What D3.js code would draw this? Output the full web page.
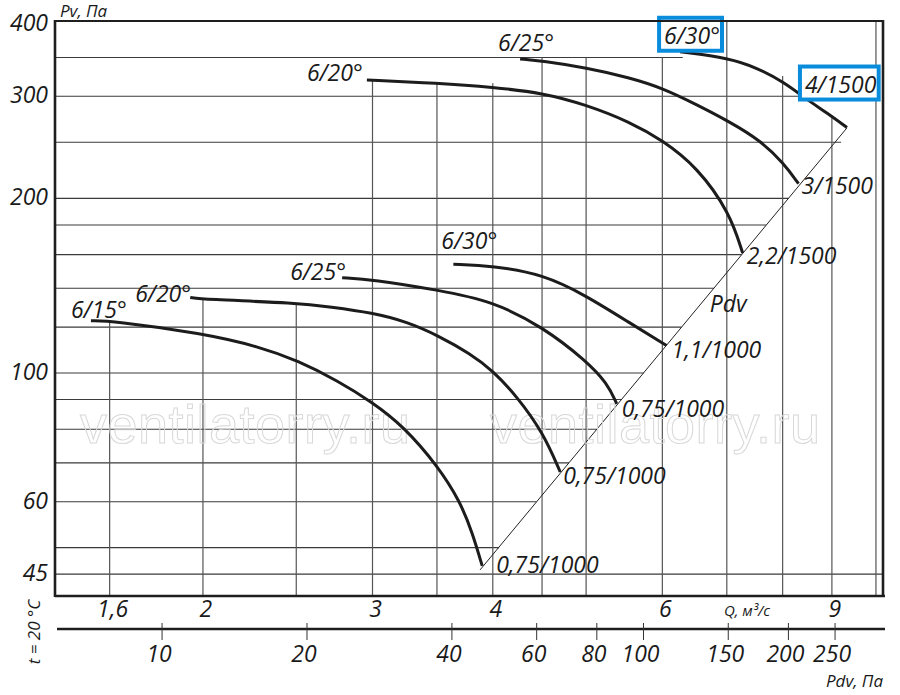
<!DOCTYPE html>
<html>
<head>
<meta charset="UTF-8">
<title>Pv - Q</title>
<script src="https://cdn.jsdelivr.net/npm/d3@7"></script>
<style>
  body { margin: 0; background: #fff; }
  text { font-family: "Open Sans", sans-serif; font-style: italic; fill: #1a1a1a; }
</style>
</head>
<body>
<svg id="chart" width="900" height="695"></svg>
<script>
// ---- values ----
const qTicks = [1.6, 2, 3, 4, 6, 9];
const qTickLabels = ["1,6", "2", "3", "4", "6", "9"];
const pvTicks = [400, 300, 200, 100, 60, 45];
const pdvTicks = [10, 20, 40, 60, 80, 100, 150, 200, 250];

// grid: vertical lines (Q) start at a Pv, horizontal lines (Pv) end at a Q
const qGrid    = [1.6, 2,   2.5, 3,   3.5, 4,   4.5, 5,   6,   7,   8,   9,   10];
const qGridTop = [123, 134, 132, 320, 316, 316, 350, 350, 350, 405, 325, 278, 405];
const pvGrid    = [45,   50,   60,   70,   80,   90,   100,  120,  140,  160,  180,  200,  250, 300,  350];
const pvGridEnd = [10.2, 4.06, 4.44, 4.80, 5.13, 5.44, 5.74, 6.28, 6.79, 7.25, 7.69, 8.11, 9.2, 8.35, 6.3];

const pdvK = 3.04;          // Pdv = k * Q^2
const diagQ = [3.88, 9.33]; // extent of the Pdv line

const curveNames  = ["6/15°", "6/20°", "6/25°", "6/30°", "6/20°", "6/25°", "6/30°"];
const curveMotors = ["0,75/1000", "0,75/1000", "0,75/1000", "1,1/1000", "2,2/1500", "3/1500", "4/1500"];

const q1  = [1.53, 1.61, 2.00, 2.29, 2.51, 2.76, 3.00, 3.23, 3.51, 3.70, 3.81, 3.90];
const pv1 = [123,  123,  117,  111,  105,  97,   89,   81,   69,   60,   53,   46.5];
const q2  = [1.94, 2.00, 2.51, 2.71, 3.00, 3.26, 3.51, 3.79, 4.00, 4.24, 4.51, 4.70];
const pv2 = [135,  134,  132,  130,  127,  122.5, 116, 108,  101,  91,   79,   67.5];
const q3  = [2.79, 3.00, 3.51, 4.00, 4.51, 5.00, 5.26, 5.38];
const pv3 = [146,  145,  139,  133,  120,  105,  96,   88.5];
const q4  = [3.64, 4.00, 4.51, 5.00, 5.55, 6.06];
const pv4 = [154,  153,  148,  136,  122,  111.5];
const q5  = [2.96, 3.51, 4.00, 4.51, 5.00, 5.55, 6.00, 6.52, 7.05, 7.27];
const pv5 = [320,  316,  311,  304,  290,  271,  252,  226.6, 189, 161];
const q6  = [4.27, 4.51, 5.00, 5.55, 6.00, 6.52, 7.05, 7.58, 8.02, 8.31];
const pv6 = [348,  345,  336,  323,  310,  290,  271,  252,  230,  212];
const q7  = [6.26, 7.05, 7.52, 8.02, 8.48, 8.89, 9.33];
const pv7 = [358,  349,  336,  317.5, 296, 281, 265];

const curveQ  = [q1, q2, q3, q4, q5, q6, q7];
const curvePv = [pv1, pv2, pv3, pv4, pv5, pv6, pv7];

// ---- layout ----
const nameOff  = [[-20,-3],[-55,5],[-52,2],[-12,-15],[-60,1],[-22,-8],[-16,-8]];
const motorOff = [[14,7],[3,12],[5,13],[5,12],[4,11],[3,10],[-42,-35]];
const boxed = [6];
const fs = "23px";

const svg = d3.select("#chart");
const x = d3.scaleLog().domain([1.404, 10.17]).range([55, 883]);
const y = d3.scaleLog().domain([41.26, 404.5]).range([596, 21]);
const xPdv = p => x(Math.sqrt(p / pdvK));

const grid = svg.append("g");
grid.selectAll(".h").data(pvGrid).enter().append("line")
  .attr("x1", 55).attr("x2", (d, i) => Math.min(883, x(pvGridEnd[i])))
  .attr("y1", d => y(d)).attr("y2", d => y(d))
  .attr("stroke", "#3a3a3a").attr("stroke-width", 1.1);
grid.selectAll(".v").data(qGrid).enter().append("line")
  .attr("x1", d => x(d)).attr("x2", d => x(d))
  .attr("y1", (d, i) => Math.max(21, y(qGridTop[i]))).attr("y2", 596)
  .attr("stroke", "#555").attr("stroke-width", 1.2);

// Pdv diagonal
svg.append("line")
  .attr("x1", x(diagQ[0])).attr("y1", y(pdvK * diagQ[0] * diagQ[0]))
  .attr("x2", x(diagQ[1])).attr("y2", y(pdvK * diagQ[1] * diagQ[1]))
  .attr("stroke", "#222").attr("stroke-width", 1);

// watermark
["ventilatorry.ru", "ventilatorry.ru"].forEach((t, i) => {
  svg.append("text").text(t)
    .attr("x", i ? 490 : 80).attr("y", 443)
    .style("font-family", "'Liberation Sans', sans-serif").style("font-style", "normal")
    .style("font-size", "54px").style("fill", "none")
    .attr("stroke", "#d8d8d8").attr("stroke-width", 1)
    .attr("textLength", 330);
});

// curves
const line = d3.line().x(d => x(d[0])).y(d => y(d[1])).curve(d3.curveBasis);
curveQ.forEach((qs, i) => {
  const pts = qs.map((q, j) => [q, curvePv[i][j]]);
  svg.append("path").attr("d", line(pts))
    .attr("fill", "none").attr("stroke", "#1c1c1c").attr("stroke-width", 3);
});

function boxText(t) {
  const b = t.node().getBBox();
  svg.insert("rect", () => t.node())
    .attr("x", b.x - 5).attr("y", b.y - 1).attr("width", b.width + 7).attr("height", b.height + 1)
    .attr("fill", "#fff").attr("stroke", "#0a8cdc").attr("stroke-width", 4);
}

curveQ.forEach((qs, i) => {
  const n = qs.length - 1;
  const a = svg.append("text").text(curveNames[i])
    .attr("x", x(qs[0]) + nameOff[i][0]).attr("y", y(curvePv[i][0]) + nameOff[i][1])
    .style("font-size", fs);
  const b = svg.append("text").text(curveMotors[i])
    .attr("x", x(qs[n]) + motorOff[i][0]).attr("y", y(curvePv[i][n]) + motorOff[i][1])
    .style("font-size", fs);
  if (boxed.includes(i)) { boxText(a); boxText(b); }
});

svg.append("text").text("Pdv").attr("x", x(6.72)).attr("y", y(127.4)).style("font-size", fs);

// frame
const frame = svg.append("g").attr("stroke", "#1e1e1e").attr("fill", "none");
frame.append("line").attr("x1", 55).attr("x2", 884).attr("y1", 21).attr("y2", 21).attr("stroke-width", 2);
frame.append("line").attr("x1", 55).attr("x2", 885).attr("y1", 596).attr("y2", 596).attr("stroke-width", 2.6);
frame.append("line").attr("x1", 55).attr("x2", 55).attr("y1", 20).attr("y2", 597).attr("stroke-width", 2.6);
frame.append("line").attr("x1", 883).attr("x2", 883).attr("y1", 20).attr("y2", 597).attr("stroke-width", 2.6);

// Pv labels
svg.selectAll(".pvl").data(pvTicks).enter().append("text")
  .attr("x", 48).attr("y", d => y(d) + 7).attr("text-anchor", "end")
  .style("font-size", fs).text(d => d);

// Q labels
svg.selectAll(".ql").data(qTicks).enter().append("text")
  .attr("x", d => x(d) + 3).attr("y", 617).attr("text-anchor", "middle")
  .style("font-size", fs).text((d, i) => qTickLabels[i]);
svg.append("text").text("Q, м³/с").attr("x", 747).attr("y", 616)
  .attr("text-anchor", "middle").style("font-size", "15px");

// Pdv axis
svg.append("line").attr("x1", 57).attr("x2", 885).attr("y1", 629).attr("y2", 629)
  .attr("stroke", "#1e1e1e").attr("stroke-width", 2.4);
svg.selectAll(".pt").data(pdvTicks).enter().append("line")
  .attr("x1", d => xPdv(d)).attr("x2", d => xPdv(d)).attr("y1", 623).attr("y2", 640)
  .attr("stroke", "#333").attr("stroke-width", 1);
svg.selectAll(".pl").data(pdvTicks).enter().append("text")
  .attr("x", d => xPdv(d) - 3).attr("y", 662).attr("text-anchor", "middle")
  .style("font-size", fs).text(d => d);
svg.append("text").text("Pdv, Па").attr("x", 883).attr("y", 687)
  .attr("text-anchor", "end").style("font-size", "17px");

svg.append("text").text("Pv, Па").attr("x", 60).attr("y", 17).style("font-size", "17px");
svg.append("text").text("t = 20 °C").attr("text-anchor", "middle")
  .attr("transform", "translate(40,632) rotate(-90)").style("font-size", "17px");
</script>
</body>
</html>
